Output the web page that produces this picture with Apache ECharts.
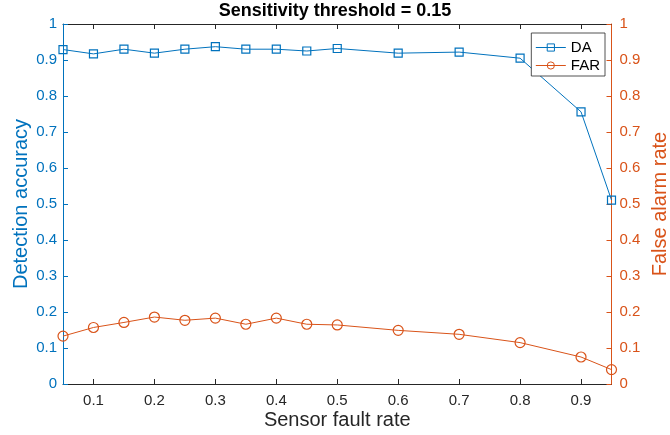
<!DOCTYPE html>
<html><head><meta charset="utf-8">
<script src="https://cdn.jsdelivr.net/npm/echarts@6/dist/echarts.min.js"></script>
<style>html,body{margin:0;padding:0;background:#fff}#c{width:670px;height:435px}</style>
</head><body><div id="c"></div>
<script>
const faultRate = [0.05,0.1,0.15,0.2,0.25,0.3,0.35,0.4,0.45,0.5,0.6,0.7,0.8,0.9,0.95];
const daValues  = [0.929,0.917,0.930,0.919,0.930,0.937,0.930,0.930,0.925,0.932,0.919,0.922,0.905,0.756,0.511];
const farValues = [0.133,0.157,0.171,0.186,0.177,0.183,0.166,0.183,0.166,0.164,0.149,0.138,0.115,0.075,0.040];
const xTicks = [0.1,0.2,0.3,0.4,0.5,0.6,0.7,0.8,0.9];
const titleText = 'Sensitivity threshold = 0.15';

const blue = '#0072BD', orange = '#D95319', dark = '#262626';
const font = 'Liberation Sans, Arial, Helvetica, sans-serif';
const chart = echarts.init(document.getElementById('c'), null, {renderer:'canvas'});
const fmt = v => (Math.round(v*10)/10).toString();
const xCommon = {
  type:'value', min:0.05, max:0.95,
  axisLine:{show:true, onZero:false, lineStyle:{color:dark, width:1}},
  axisTick:{show:true, inside:true, length:5, customValues:xTicks, lineStyle:{color:dark}},
  splitLine:{show:false}
};
const yCommon = (color, pos, margin) => ({
  type:'value', min:0, max:1, interval:0.1, position:pos,
  axisLine:{show:true, onZero:false, lineStyle:{color:color, width:1}},
  axisTick:{show:true, inside:true, length:5, lineStyle:{color:color}},
  axisLabel:{color:color, fontSize:15, fontFamily:font, margin:margin, formatter:v=>fmt(v)},
  splitLine:{show:false},
  nameLocation:'middle', nameRotate:90, nameMoveOverlap:false,
  nameTextStyle:{color:color, fontSize:20, fontFamily:font}
});
chart.setOption({
  animation:false,
  title:{text:titleText, left:'center', top:2, padding:0, textStyle:{fontSize:18, fontWeight:'bold', color:'#000', fontFamily:font}},
  grid:{left:63, right:58.5, top:24, bottom:51, containLabel:false, outerBoundsMode:'none'},
  legend:{
    right:65, top:33, orient:'vertical', backgroundColor:'#fff',
    borderColor:dark, borderWidth:0.8, padding:[7,5,3,4], itemGap:3,
    itemWidth:30, itemHeight:9,
    lineStyle:{width:1}, itemStyle:{borderWidth:1},
    textStyle:{fontSize:15, fontFamily:font, color:'#000'},
    data:['DA','FAR']
  },
  xAxis:[
    Object.assign({}, xCommon, {position:'bottom',
      name:'Sensor fault rate', nameLocation:'middle', nameGap:26, nameMoveOverlap:false,
      nameTextStyle:{color:dark, fontSize:20, fontFamily:font},
      axisLabel:{show:true, customValues:xTicks, color:dark, fontSize:15, fontFamily:font, margin:9, formatter:v=>fmt(v)}}),
    Object.assign({}, xCommon, {position:'top', axisLabel:{show:false}})
  ],
  yAxis:[
    Object.assign(yCommon(blue,'left',6), {name:'Detection accuracy', nameGap:32}),
    Object.assign(yCommon(orange,'right',8), {name:'False alarm rate', nameGap:39})
  ],
  series:[
    {name:'DA', type:'line', xAxisIndex:0, yAxisIndex:0,
     data:faultRate.map((x,i)=>[x,daValues[i]]),
     symbol:'rect', symbolSize:8, showAllSymbol:true,
     lineStyle:{color:blue, width:1},
     itemStyle:{color:'rgba(255,255,255,0)', borderColor:blue, borderWidth:1.2}},
    {name:'FAR', type:'line', xAxisIndex:0, yAxisIndex:1,
     data:faultRate.map((x,i)=>[x,farValues[i]]),
     symbol:'circle', symbolSize:10, showAllSymbol:true,
     lineStyle:{color:orange, width:1},
     itemStyle:{color:'rgba(255,255,255,0)', borderColor:orange, borderWidth:1.2}}
  ]
});
</script></body></html>
